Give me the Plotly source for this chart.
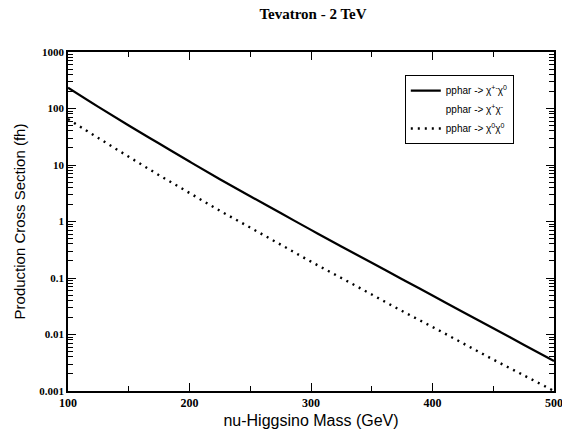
import plotly.graph_objects as go

# nu-Higgsino mass grid (GeV)
mass = [100, 125, 150, 175, 200, 225, 250, 275, 300, 325, 350, 375, 400,
        425, 450, 475, 500]

# Production cross sections (fb)
xsec_charged_neutral = [234, 107, 50, 24, 11.5, 5.6, 2.8, 1.41, 0.71, 0.36,
                        0.186, 0.095, 0.049, 0.025, 0.0129, 0.0066, 0.0034]
xsec_charged_charged = [None] * len(mass)
xsec_neutral_neutral = [65, 30, 14, 6.6, 3.2, 1.55, 0.78, 0.39, 0.195, 0.10,
                        0.051, 0.026, 0.0136, 0.0070, 0.0036, 0.0019, 0.001]

x_tick_vals = [100, 200, 300, 400, 500]
x_minor_vals = [150, 250, 350, 450]
decades = [0.001, 0.01, 0.1, 1, 10, 100]
y_minor_vals = [d * k for d in decades for k in range(2, 10)]

serif = "Liberation Serif"
sans = "Liberation Sans"
narrow = "Liberation Sans Narrow, Liberation Sans, sans-serif"

fig = go.Figure()
fig.add_trace(go.Scatter(
    x=mass, y=xsec_charged_neutral, mode="lines",
    name="pphar -> χ<sup>+-</sup>χ<sup>0</sup>",
    line=dict(color="black", width=2.2, shape="spline")))
fig.add_trace(go.Scatter(
    x=mass, y=xsec_charged_charged, mode="lines", xaxis="x2", yaxis="y2",
    name="pphar -> χ<sup>+</sup>χ<sup>-</sup>",
    line=dict(color="rgba(0,0,0,0)", width=2)))
fig.add_trace(go.Scatter(
    x=mass, y=xsec_neutral_neutral, mode="lines",
    name="pphar -> χ<sup>0</sup>χ<sup>0</sup>",
    line=dict(color="black", width=2.4, dash="2px,5px", shape="spline")))

fig.update_layout(
    width=562, height=431,
    margin=dict(l=68, r=8, t=52, b=40, autoexpand=False),
    paper_bgcolor="white", plot_bgcolor="white",
    font=dict(family=serif, color="black"),
    title=dict(text="<b>Tevatron - 2 TeV</b>", x=313 / 562, xref="container",
               y=1 - 14 / 431, yref="container", yanchor="middle",
               xanchor="center", font=dict(family=serif, size=15)),
    showlegend=True,
    legend=dict(x=0.693, y=0.932, xanchor="left", yanchor="top",
                bgcolor="white", bordercolor="black", borderwidth=1,
                font=dict(family=narrow, size=10), tracegroupgap=0,
                itemwidth=30),
)

axis_common = dict(
    showline=True, linecolor="black", linewidth=1.5, mirror="ticks",
    ticks="inside", tickcolor="black", showgrid=False, zeroline=False,
    automargin=False,
)

fig.update_layout(
    xaxis=dict(
        axis_common, range=[100, 500], tickvals=x_tick_vals,
        ticklabeloverflow="allow", ticklen=8, tickwidth=1.2,
        tickfont=dict(family=serif, size=12, weight="bold"),
        title=dict(text="nu-Higgsino Mass (GeV)", standoff=6,
                   font=dict(family=sans, size=16)),
    ),
    yaxis=dict(
        axis_common, type="log", range=[-3, 3], dtick=1,
        exponentformat="none", ticklabeloverflow="allow",
        ticklen=8, tickwidth=1.2,
        tickfont=dict(family=serif, size=11, weight="bold"),
        title=dict(text="Production Cross Section (fh)", standoff=10,
                   font=dict(family=sans, size=15)),
    ),
    # secondary axes carry only the minor tick marks
    xaxis2=dict(
        axis_common, overlaying="x", side="bottom", range=[100, 500],
        tickvals=x_minor_vals, ticklen=5, tickwidth=1.2,
        showticklabels=False,
    ),
    yaxis2=dict(
        axis_common, overlaying="y", side="left", type="log", range=[-3, 3],
        tickvals=y_minor_vals, ticklen=5, tickwidth=1.2,
        showticklabels=False,
    ),
)

fig.write_html("out.html")
